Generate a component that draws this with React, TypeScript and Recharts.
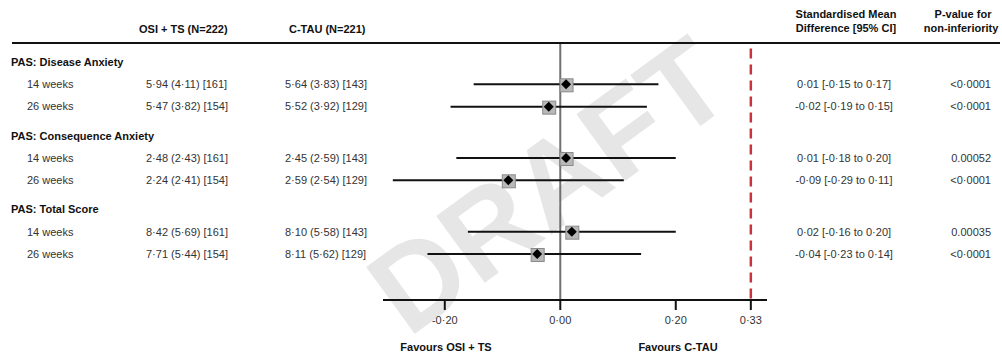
import React from "react";
import {
  ScatterChart,
  Scatter,
  XAxis,
  YAxis,
  ErrorBar,
  ReferenceLine,
} from "recharts";

const groups = ["PAS: Disease Anxiety", "PAS: Consequence Anxiety", "PAS: Total Score"];
const timepoints = ["14 weeks", "26 weeks"];
const osiText = [
  "5·94 (4·11) [161]",
  "5·47 (3·82) [154]",
  "2·48 (2·43) [161]",
  "2·24 (2·41) [154]",
  "8·42 (5·69) [161]",
  "7·71 (5·44) [154]",
];
const ctauText = [
  "5·64 (3·83) [143]",
  "5·52 (3·92) [129]",
  "2·45 (2·59) [143]",
  "2·59 (2·54) [129]",
  "8·10 (5·58) [143]",
  "8·11 (5·62) [129]",
];
const smd = [0.01, -0.02, 0.01, -0.09, 0.02, -0.04];
const ciLow = [-0.15, -0.19, -0.18, -0.29, -0.16, -0.23];
const ciHigh = [0.17, 0.15, 0.2, 0.11, 0.2, 0.14];
const pValues = ["<0·0001", "<0·0001", "0.00052", "<0·0001", "0.00035", "<0·0001"];
const xTicks = [-0.2, 0, 0.2, 0.33];
const margin = 0.33;

const FONT = "'Liberation Sans', Arial, Helvetica, sans-serif";
const fmt = (v: number) => v.toFixed(2).replace(".", "·");

// table rows: group header then its two timepoints, small extra gap between groups
type Row = { pos: number; kind: "group" | "item"; label: string; i?: number };
const rows: Row[] = [];
let cursor = 0;
groups.forEach((g, gi) => {
  rows.push({ pos: cursor, kind: "group", label: g });
  timepoints.forEach((t, ti) => {
    rows.push({ pos: cursor + ti + 1, kind: "item", label: t, i: gi * 2 + ti });
  });
  cursor += 3.3;
});

const points = rows
  .filter((r) => r.kind === "item")
  .map((r) => {
    const i = r.i as number;
    return { x: smd[i], y: r.pos, err: [smd[i] - ciLow[i], ciHigh[i] - smd[i]] };
  });

const RowTick = (props: any) => {
  const { y, payload } = props;
  const row = rows.find((r) => Math.abs(r.pos - payload.value) < 0.01);
  if (!row) return null;
  if (row.kind === "group") {
    return (
      <text x={11} y={y} dy="0.35em" fontSize={11} fontWeight="bold" fill="#111" fontFamily={FONT}>
        {row.label}
      </text>
    );
  }
  const i = row.i as number;
  const common = { y, dy: "0.35em", fontSize: 11, fill: "#333", fontFamily: FONT };
  return (
    <g>
      <text x={27} {...common}>{row.label}</text>
      <text x={146} {...common}>{osiText[i]}</text>
      <text x={285} {...common}>{ctauText[i]}</text>
      <text x={844} textAnchor="middle" {...common}>
        {`${fmt(smd[i])} [${fmt(ciLow[i])} to ${fmt(ciHigh[i])}]`}
      </text>
      <text x={991} textAnchor="end" {...common}>{pValues[i]}</text>
    </g>
  );
};

const XTick = (props: any) => {
  const { x, y, payload } = props;
  return (
    <text x={x} y={y} dy="0.71em" textAnchor="middle" fontSize={11} fill="#333" fontFamily={FONT}>
      {fmt(payload.value)}
    </text>
  );
};

const Marker = (props: any) => {
  const { cx, cy } = props;
  return (
    <g>
      <rect x={cx - 6} y={cy - 5.5} width={13} height={13} fill="#b8b8b8" stroke="#8a8a8a" strokeWidth={1} />
      <polygon points={`${cx},${cy - 5} ${cx + 5},${cy} ${cx},${cy + 5} ${cx - 5},${cy}`} fill="#000" />
    </g>
  );
};

export default function App() {
  return (
    <div style={{ position: "absolute", left: 0, top: 0, width: 1002, height: 358, background: "#fff" }}>
      <svg width={1002} height={358} style={{ position: "absolute", left: 0, top: 0 }}>
        <text
          x={0}
          y={0}
          dy="0.35em"
          transform="translate(548,185) rotate(-36)"
          textAnchor="middle"
          fontSize={120}
          fontWeight="bold"
          fill="#e6e6e6"
          fontFamily={FONT}
        >
          DRAFT
        </text>
      </svg>
      <div style={{ position: "absolute", left: 0, top: 0 }}>
        <ScatterChart width={1002} height={358} margin={{ top: 43, right: 235, bottom: 18, left: 382 }}>
          <XAxis
            type="number"
            dataKey="x"
            domain={[-0.307, 0.358]}
            allowDataOverflow
            ticks={xTicks}
            axisLine={{ stroke: "#111", strokeWidth: 2 }}
            tickLine={{ stroke: "#111", strokeWidth: 2 }}
            tickSize={10}
            tickMargin={6}
            height={40}
            tick={<XTick />}
          />
          <YAxis
            type="number"
            dataKey="y"
            domain={[-0.85, 10.66]}
            allowDataOverflow
            reversed
            ticks={rows.map((r) => r.pos)}
            interval={0}
            width={1}
            axisLine={false}
            tickLine={false}
            tick={<RowTick />}
          />
          <ReferenceLine x={0} stroke="#707070" strokeWidth={2} />
          <ReferenceLine
            segment={[
              { x: margin, y: -0.6 },
              { x: margin, y: 10.66 },
            ]}
            stroke="#c9343c"
            strokeWidth={2.5}
            strokeDasharray="10 6"
          />
          <Scatter data={points} shape={<Marker />} isAnimationActive={false}>
            <ErrorBar dataKey="err" direction="x" width={0} stroke="#111" strokeWidth={2} />
          </Scatter>
        </ScatterChart>
      </div>
      <svg
        width={1002}
        height={358}
        style={{ position: "absolute", left: 0, top: 0, pointerEvents: "none" }}
        fontFamily={FONT}
      >
        <line x1={12} y1={43} x2={1000} y2={43} stroke="#111" strokeWidth={2} />
        <text x={139} y={29} dy="0.35em" fontSize={11} fontWeight="bold" fill="#111">OSI + TS (N=222)</text>
        <text x={289} y={29} dy="0.35em" fontSize={11} fontWeight="bold" fill="#111">C-TAU (N=221)</text>
        <text x={846} y={14} dy="0.35em" fontSize={11} fontWeight="bold" fill="#111" textAnchor="middle">Standardised Mean</text>
        <text x={846} y={28} dy="0.35em" fontSize={11} fontWeight="bold" fill="#111" textAnchor="middle">Difference [95% CI]</text>
        <text x={963} y={14} dy="0.35em" fontSize={11} fontWeight="bold" fill="#111" textAnchor="middle">P-value for</text>
        <text x={961} y={28} dy="0.35em" fontSize={11} fontWeight="bold" fill="#111" textAnchor="middle">non-inferiority</text>
        <text x={446} y={347} dy="0.35em" fontSize={11} fontWeight="bold" fill="#111" textAnchor="middle">Favours OSI + TS</text>
        <text x={678} y={347} dy="0.35em" fontSize={11} fontWeight="bold" fill="#111" textAnchor="middle">Favours C-TAU</text>
      </svg>
    </div>
  );
}
